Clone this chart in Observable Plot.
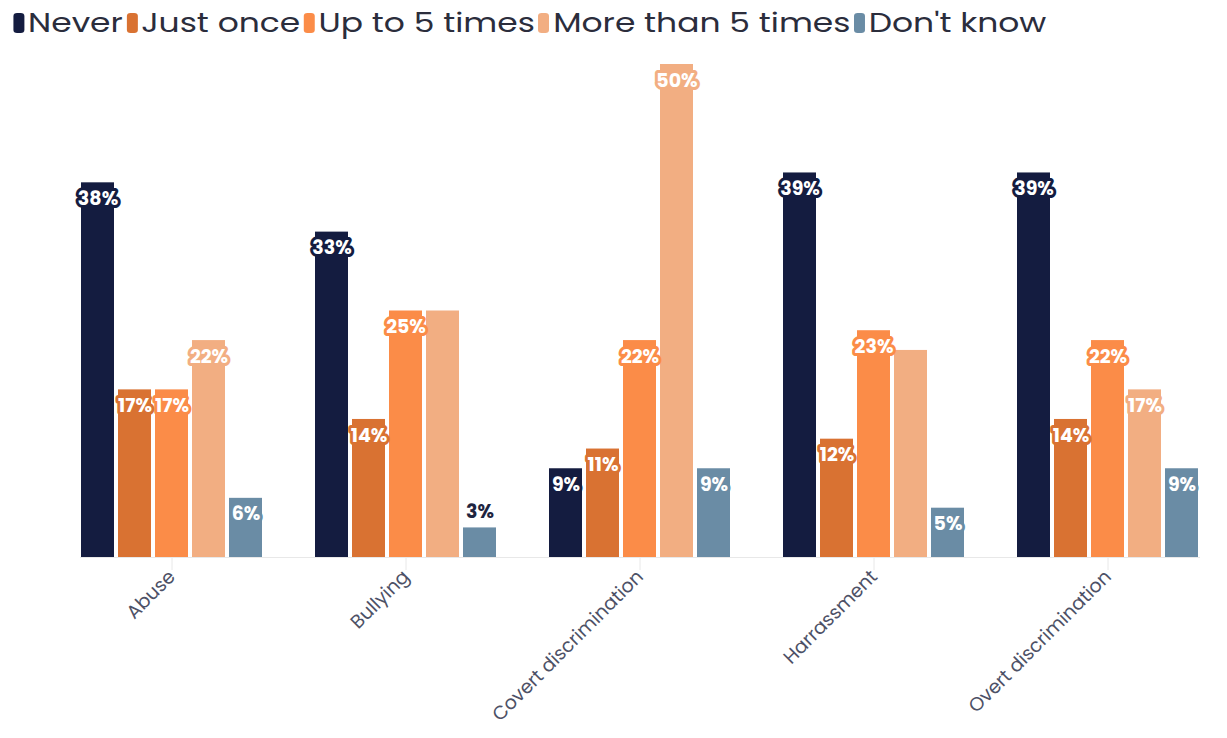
<!DOCTYPE html>
<html>
<head>
<meta charset="utf-8">
<script src="https://cdn.jsdelivr.net/npm/d3@7"></script>
<script src="https://cdn.jsdelivr.net/npm/@observablehq/plot@0.6"></script>
<style>
  body { margin: 0; background: #fff; font-family: Poppins, "Open Sans", sans-serif; }
  #legend { height: 45px; display: flex; align-items: center; padding-left: 11px; box-sizing: border-box;
            transform: scaleX(1.22); transform-origin: left center; }
  .item { display: flex; align-items: center; margin-right: 3px; font-size: 27px; color: #2b2d3c; }
  .sw { width: 9px; height: 20px; border-radius: 3px; margin-right: 3px; }
</style>
</head>
<body>
<div id="legend"></div>
<div id="chart"></div>
<script>
const categories = ["Abuse", "Bullying", "Covert discrimination", "Harrassment", "Overt discrimination"];
const series = ["Never", "Just once", "Up to 5 times", "More than 5 times", "Don't know"];
const colors = ["#141c40", "#d97232", "#fb8c48", "#f2ae82", "#6a8ca5"];
const never        = [38, 33, 9, 39, 39];
const justOnce     = [17, 14, 11, 12, 14];
const upTo5        = [17, 25, 22, 23, 22];
const moreThan5    = [22, 25, 50, 21, 17];
const dontKnow     = [6, 3, 9, 5, 9];
const hiddenLabels = [["Bullying", "More than 5 times"], ["Harrassment", "More than 5 times"]];

const seriesValues = [never, justOnce, upTo5, moreThan5, dontKnow];
const data = [];
categories.forEach((c, i) => series.forEach((s, j) => data.push({category: c, response: s, value: seriesValues[j][i]})));
const isHidden = d => hiddenLabels.some(([c, s]) => c === d.category && s === d.response);
const inside = data.filter(d => d.value >= 4 && !isHidden(d));
const outside = data.filter(d => d.value < 4 && !isHidden(d));

const legend = document.getElementById("legend");
series.forEach((s, i) => {
  const it = document.createElement("div");
  it.className = "item";
  it.innerHTML = `<span class="sw" style="background:${colors[i]}"></span><span>${s}</span>`;
  legend.appendChild(it);
});

const chart = Plot.plot({
  width: 1227,
  height: 693,
  marginTop: 19,
  marginBottom: 181,
  marginLeft: 54,
  marginRight: 2,
  style: {fontFamily: 'Poppins, "Open Sans", sans-serif', background: "#fff"},
  fx: {domain: categories, paddingInner: 0.22, paddingOuter: 0.11, label: null},
  x: {domain: series, paddingInner: 0.12, paddingOuter: 0, axis: null},
  y: {domain: [0, 50], axis: null},
  color: {domain: series, range: colors},
  marks: [
    Plot.frame({anchor: "bottom", facet: "super", stroke: "#e8e8e8"}),
    Plot.barY(data, {fx: "category", x: "response", y: "value", fill: "response"}),
    Plot.text(inside, {fx: "category", x: "response", y: "value", text: d => d.value + "%", dy: 16,
      fill: "white", stroke: "response", strokeWidth: 6, fontWeight: "bold", fontSize: 19}),
    Plot.text(outside, {fx: "category", x: "response", y: "value", text: d => d.value + "%", dy: -16,
      fill: "#1f2540", fontWeight: "bold", fontSize: 19}),
    Plot.axisFx({anchor: "bottom", tickRotate: -45, tickSize: 13, tickPadding: 3, stroke: "#e8e8e8",
      fill: "#4d5166", fontSize: 19, label: null})
  ]
});
document.getElementById("chart").appendChild(chart);
</script>
</body>
</html>
